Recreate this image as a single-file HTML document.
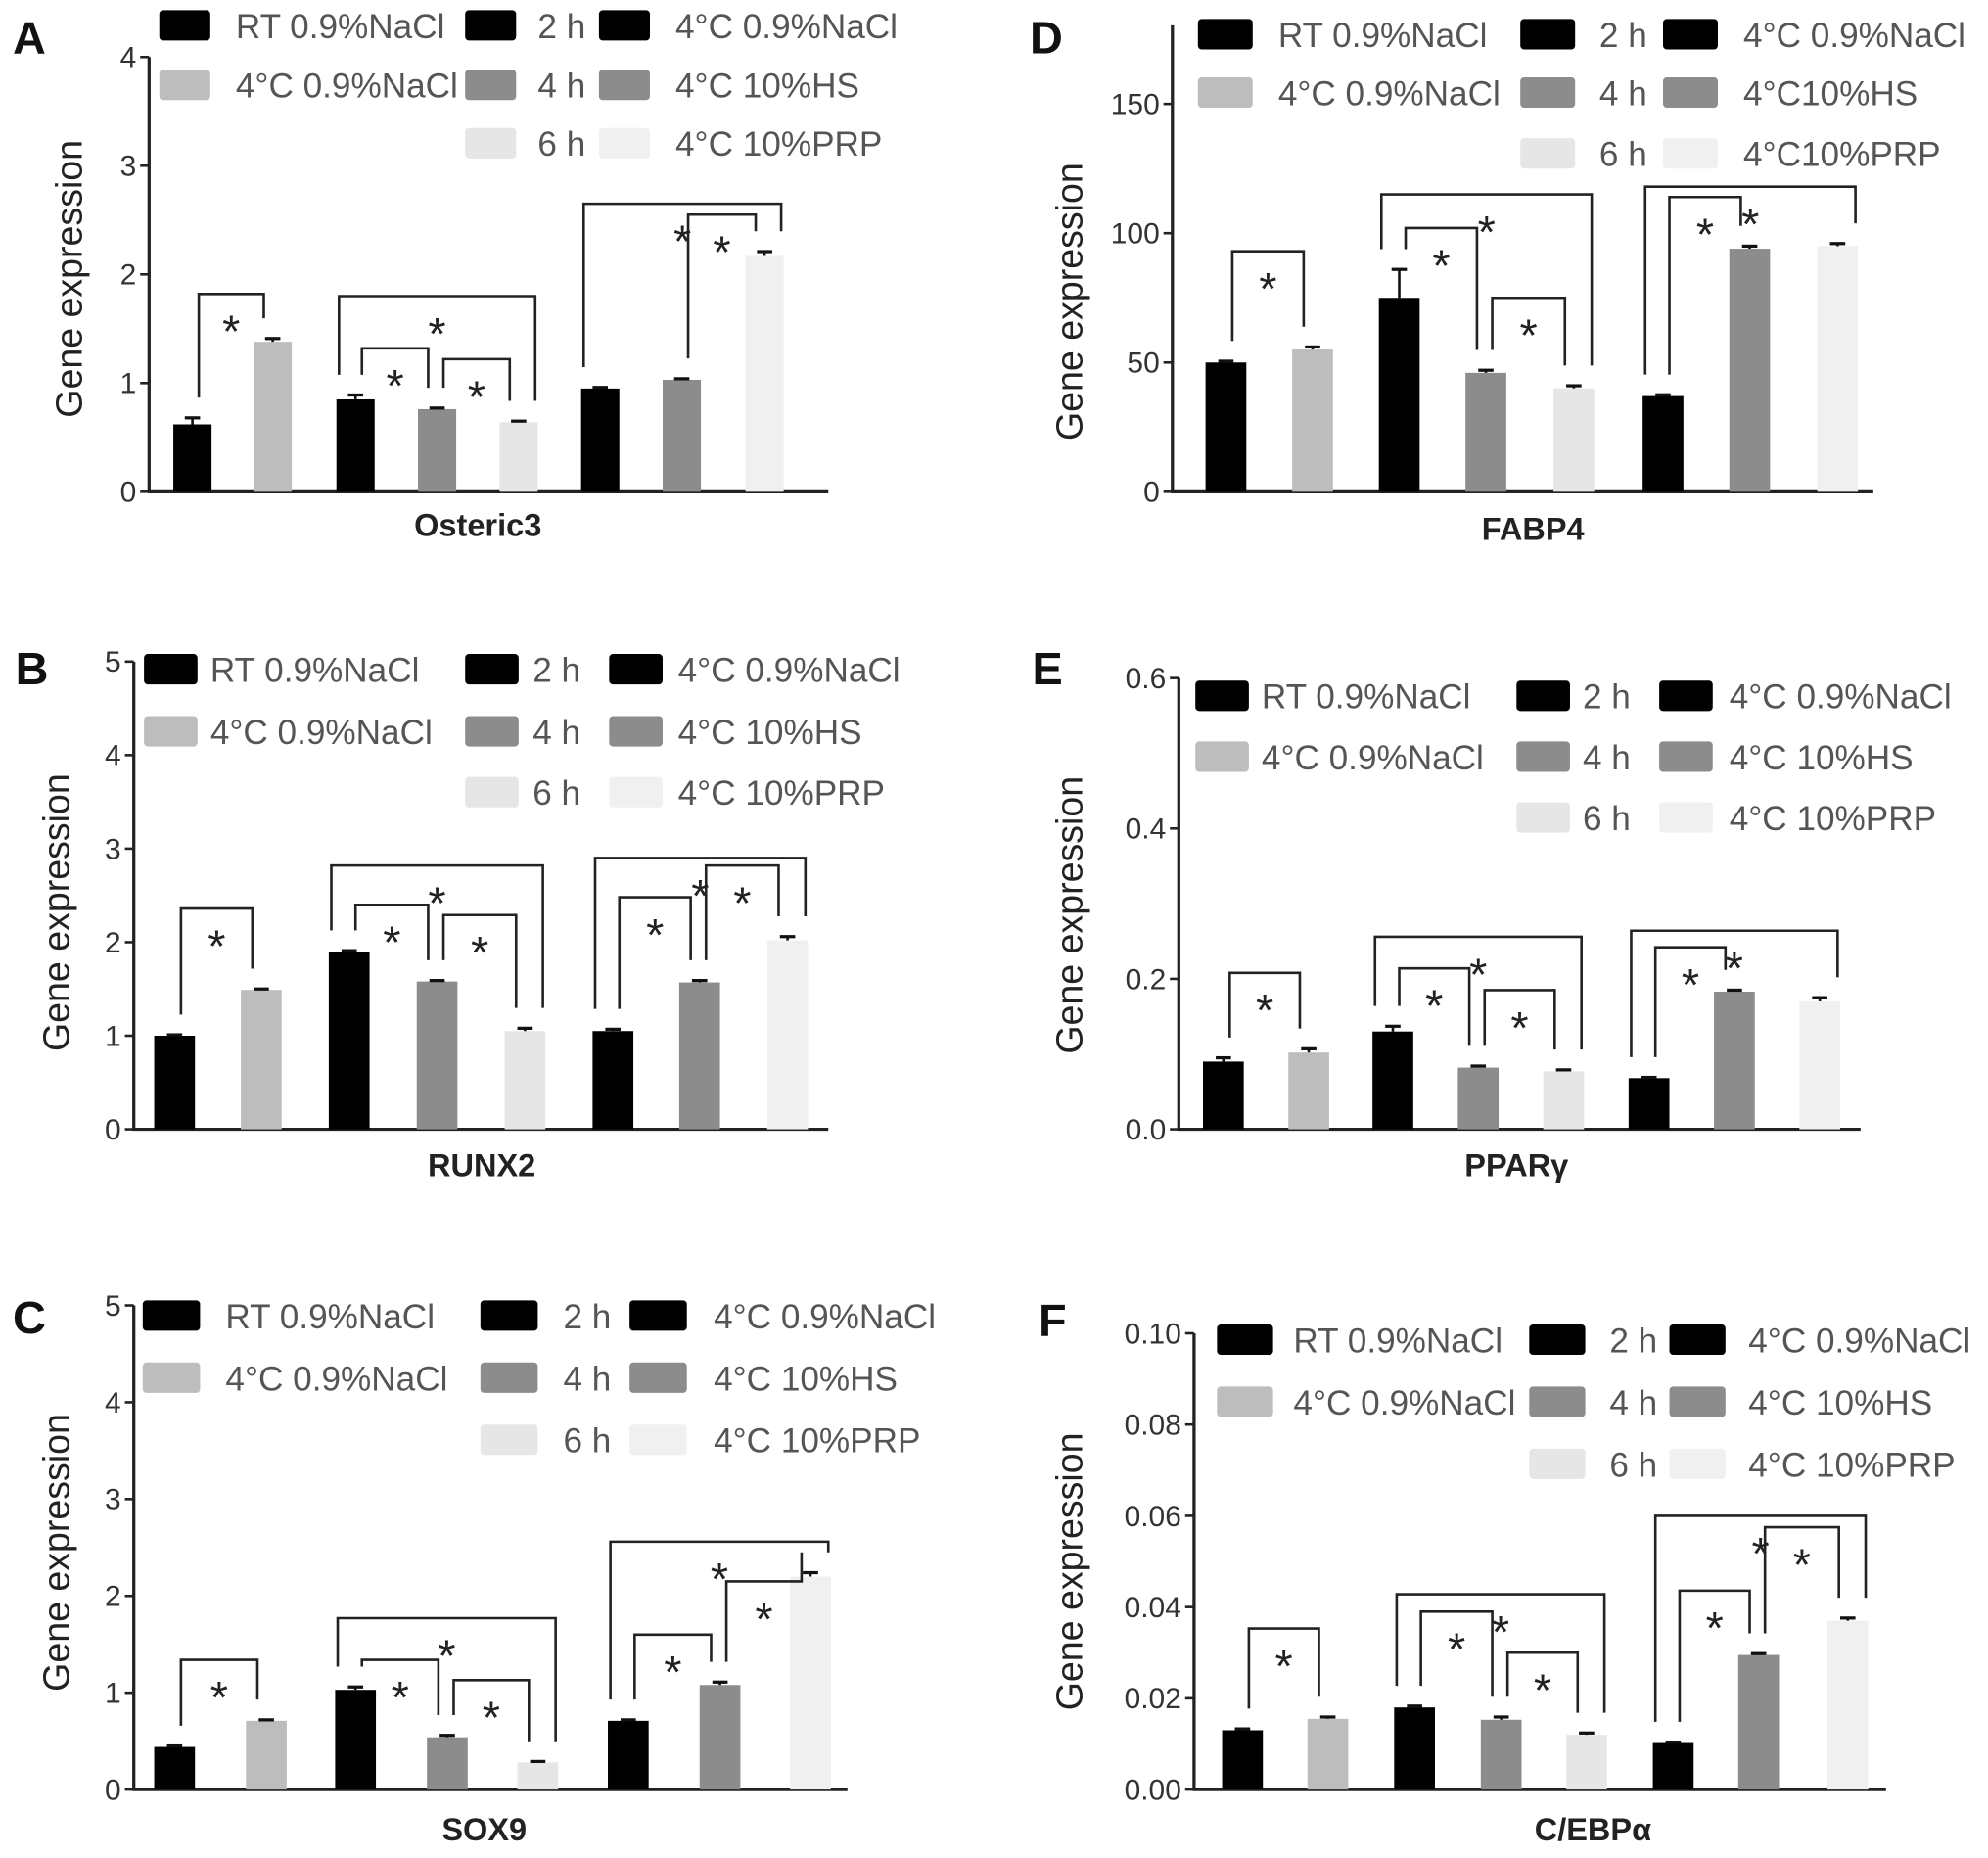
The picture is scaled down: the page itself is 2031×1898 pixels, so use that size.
<!DOCTYPE html>
<html><head><meta charset="utf-8"><style>
html,body{margin:0;padding:0;background:#fff;}
svg{display:block;}
text{font-family:"Liberation Sans",sans-serif;}
</style></head>
<body>
<svg id="fig" xmlns="http://www.w3.org/2000/svg" width="2031" height="1898" viewBox="0 0 1560 1466" preserveAspectRatio="none">
<rect width="1560" height="1466" fill="#fff"/>
</svg>
<script>
// ---- Data ----
const panelLetters = ["A","B","C","D","E","F"];
const geneNames = ["Osteric3","RUNX2","SOX9","FABP4","PPARγ","C/EBPα"];
const valuesA = [0.62,1.38,0.85,0.76,0.64,0.95,1.03,2.17];
const errorsA = [0.06,0.03,0.04,0.01,0.01,0.01,0.01,0.04];
const valuesB = [1.0,1.49,1.9,1.58,1.05,1.05,1.57,2.02];
const errorsB = [0.01,0.01,0.01,0.01,0.03,0.02,0.02,0.04];
const valuesC = [0.44,0.71,1.03,0.54,0.28,0.71,1.08,2.2];
const errorsC = [0.01,0.01,0.03,0.02,0.01,0.01,0.03,0.04];
const valuesD = [50,55,75,46,40,37,94,95];
const errorsD = [0.5,1,11,1,1,0.5,1,1];
const valuesE = [0.09,0.102,0.13,0.082,0.077,0.068,0.183,0.17];
const errorsE = [0.005,0.005,0.007,0.002,0.002,0.001,0.002,0.005];
const valuesF = [0.013,0.0155,0.018,0.0153,0.012,0.0102,0.0295,0.037];
const errorsF = [0.0003,0.0004,0.0003,0.0006,0.0004,0.0002,0.0003,0.0006];
const ticksA = [0,1,2,3,4];
const ticksB = [0,1,2,3,4,5];
const ticksC = [0,1,2,3,4,5];
const ticksD = [0,50,100,150];
const ticksE = [0.0,0.2,0.4,0.6];
const ticksF = [0.00,0.02,0.04,0.06,0.08,0.10];
const tickLabelsA = ["0","1","2","3","4"];
const tickLabelsB = ["0","1","2","3","4","5"];
const tickLabelsC = ["0","1","2","3","4","5"];
const tickLabelsD = ["0","50","100","150"];
const tickLabelsE = ["0.0","0.2","0.4","0.6"];
const tickLabelsF = ["0.00","0.02","0.04","0.06","0.08","0.10"];
// brackets: [leftBar, rightBar, level(data units)]
const bracketsA = [[0,1,1.82],[2,4,1.8],[2,3,1.32],[3,4,1.22],[5,7,2.65],[6,7,2.55]];
const bracketsB = [[0,1,2.36],[2,4,2.82],[2,3,2.4],[3,4,2.29],[5,7,2.9],[5,6,2.48],[6,7,2.82]];
const bracketsC = [[0,1,1.34],[2,4,1.77],[2,3,1.34],[3,4,1.13],[5,7,2.56],[5,6,1.6],[6,7,2.15]];
const bracketsD = [[0,1,93],[2,4,115],[2,3,102],[3,4,75],[5,7,118],[5,6,114]];
const bracketsE = [[0,1,0.208],[2,4,0.256],[2,3,0.214],[3,4,0.185],[5,7,0.264],[5,6,0.242]];
const bracketsF = [[0,1,0.0353],[2,4,0.0428],[2,3,0.039],[3,4,0.030],[5,7,0.060],[5,6,0.0436],[6,7,0.0575]];
const legendCol1 = ["RT 0.9%NaCl","4°C 0.9%NaCl"];
const legendCol2 = ["2 h","4 h","6 h"];
const legendCol3 = ["4°C 0.9%NaCl","4°C 10%HS","4°C 10%PRP"];
const barColors = ["#000","#bdbdbd","#000","#8c8c8c","#e6e6e6","#000","#8c8c8c","#f0f0f0"];
const col1Colors = ["#000","#bdbdbd"];
const col23Colors = ["#000","#8c8c8c","#e6e6e6"];

// ---- Layout (pixel geometry, not data) ----
const layouts = [
 {ax:117,y0:388,yTopVal:4,yTop:45,xEnd:650,centers:[151,214,279,343,407,471,535,600],bw:30,letter:[10,42],gx:375,gy:423,yt:[45,220],
  leg:{rows:[20,67,113],c1:[125,185],c2:[365,422],c3:[470,530],sw:40}},
 {ax:105,y0:891,yTopVal:5,yTop:522,xEnd:650,centers:[137,205,274,343,412,481,549,618],bw:32,letter:[12,540],gx:378,gy:928,yt:[35,720],
  leg:{rows:[528,577,625],c1:[113,165],c2:[365,418],c3:[478,532],sw:42}},
 {ax:105,y0:1412,yTopVal:5,yTop:1030,xEnd:665,centers:[137,209,279,351,422,493,565,636],bw:32,letter:[10,1052],gx:380,gy:1452,yt:[35,1225],
  leg:{rows:[1038,1087,1136],c1:[112,177],c2:[377,442],c3:[494,560],sw:45}},
 {ax:920,y0:388,yTopVal:150,yTop:82,xEnd:1470,centers:[962,1030,1098,1166,1235,1305,1373,1442],bw:32,letter:[808,42],gx:1203,gy:426,yt:[830,238],
  leg:{rows:[27,73,121],c1:[940,1003],c2:[1193,1255],c3:[1305,1368],sw:43},top:20},
 {ax:925,y0:891,yTopVal:0.6,yTop:535,xEnd:1460,centers:[960,1027,1093,1160,1227,1294,1361,1428],bw:32,letter:[810,540],gx:1190,gy:928,yt:[830,722],
  leg:{rows:[549,597,645],c1:[938,990],c2:[1190,1242],c3:[1302,1357],sw:42}},
 {ax:937,y0:1412,yTopVal:0.1,yTop:1052,xEnd:1480,centers:[975,1042,1110,1178,1245,1313,1380,1450],bw:32,letter:[815,1054],gx:1250,gy:1452,yt:[830,1240],
  leg:{rows:[1057,1106,1155],c1:[955,1015],c2:[1200,1263],c3:[1310,1372],sw:44}}
];
const allValues=[valuesA,valuesB,valuesC,valuesD,valuesE,valuesF];
const allErrors=[errorsA,errorsB,errorsC,errorsD,errorsE,errorsF];
const allTicks=[ticksA,ticksB,ticksC,ticksD,ticksE,ticksF];
const allTickLabels=[tickLabelsA,tickLabelsB,tickLabelsC,tickLabelsD,tickLabelsE,tickLabelsF];
const allBrackets=[bracketsA,bracketsB,bracketsC,bracketsD,bracketsE,bracketsF];

const NS="http://www.w3.org/2000/svg";
const svg=document.getElementById('fig');
function mk(tag,attrs,parent,txt){const e=document.createElementNS(NS,tag);for(const k in attrs)e.setAttribute(k,attrs[k]);if(txt!==undefined)e.textContent=txt;parent.appendChild(e);return e;}

layouts.forEach((L,p)=>{
  const g=mk('g',{},svg);
  
  
  const yScale=v=>L.y0-(v/L.yTopVal)*(L.y0-L.yTop);
  const lt=mk('text',{x:L.letter[0],y:L.letter[1],'font-size':36,'font-weight':'bold',fill:'#111'},g,panelLetters[p]);
  
  
  const top=L.top!==undefined?L.top:L.yTop;
  const ya=mk('line',{x1:L.ax,y1:top,x2:L.ax,y2:L.y0,stroke:'#222','stroke-width':2.5},g);
  
  
  const xa=mk('line',{x1:L.ax-1,y1:L.y0,x2:L.xEnd,y2:L.y0,stroke:'#222','stroke-width':2.5},g);
  
  
  allTicks[p].forEach((t,i)=>{
    const y=yScale(t);
    mk('line',{x1:L.ax-7,y1:y,x2:L.ax,y2:y,stroke:'#222','stroke-width':2},g);
    const tl=mk('text',{x:L.ax-10,y:y+8,'font-size':23,'text-anchor':'end',fill:'#333'},g,allTickLabels[p][i]);
    
    
  });
  const yt=mk('text',{x:0,y:0,'font-size':29,'text-anchor':'middle',fill:'#222',transform:`translate(${L.yt[0]+19},${L.yt[1]}) rotate(-90)`},g,'Gene expression');
  
  
  const gt=mk('text',{x:L.gx,y:L.gy,'font-size':25,'font-weight':'bold','text-anchor':'middle',fill:'#222'},g,geneNames[p]);
  
  
  allValues[p].forEach((v,i)=>{
    const cx=L.centers[i],y=yScale(v);
    const b=mk('rect',{x:cx-L.bw/2,y:y,width:L.bw,height:L.y0-y,fill:barColors[i]},g);
    
    
    const ye=yScale(v+allErrors[p][i]);
    mk('line',{x1:cx,y1:y,x2:cx,y2:ye,stroke:'#111','stroke-width':2},g);
    mk('line',{x1:cx-6,y1:ye,x2:cx+6,y2:ye,stroke:'#111','stroke-width':2.5},g);
  });
  allBrackets[p].forEach(br=>{
    const [a,b,lev]=br;const yl=yScale(lev);
    const wide=(b-a)>=2;
    const xa_=L.centers[a]+(wide?-L.bw/2+2:5);
    const xb=L.centers[b]+(wide?L.bw/2-2:-7);
    const ba=yScale(allValues[p][a]+allErrors[p][a])-16;
    const bb=yScale(allValues[p][b]+allErrors[p][b])-16;
    const pl=mk('polyline',{points:`${xa_},${ba} ${xa_},${yl} ${xb},${yl} ${xb},${bb}`,fill:'none',stroke:'#222','stroke-width':2},g);
    
    
    const st=mk('text',{x:(xa_+xb)/2,y:yl+42,'font-size':36,'text-anchor':'middle',fill:'#222'},g,'*');
    
    
  });
  const lg=L.leg;
  const addLeg=(col,row,label,color)=>{
    const y=lg.rows[row];
    const s=mk('rect',{x:col[0],y:y-12,width:lg.sw,height:24,rx:3,fill:color},g);
    
    
    const t=mk('text',{x:col[1],y:y+10,'font-size':27,fill:'#555'},g,label);
    
    
  };
  legendCol1.forEach((l,i)=>addLeg(lg.c1,i,l,col1Colors[i]));
  legendCol2.forEach((l,i)=>addLeg(lg.c2,i,l,col23Colors[i]));
  legendCol3.forEach((l,i)=>addLeg(lg.c3,i,(p===3&&i>0)?l.replace('C ','C'):l,i===2?'#f0f0f0':col23Colors[i]));
});
</script>
</body></html>
